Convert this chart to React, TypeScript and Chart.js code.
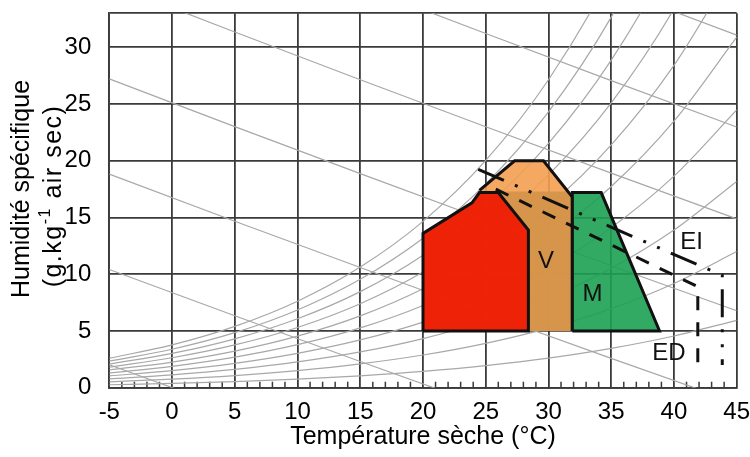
import React, { useEffect, useRef } from "react";
import { Chart, registerables } from "chart.js";

Chart.register(...registerables);

const FONT = 'Arial, "Liberation Sans", Helvetica, sans-serif';
const GRID = "#3a3a3a";
const PSY = "#a8a8a8";

// Axis titles
const xTitle = "Température sèche (°C)";
const yTitle1 = "Humidité spécifique";
const yTitle2 = ["(g.kg", "-1", " air sec)"];

// Relative humidity curves (10 % ... 100 %), g/kg at these temperatures
const temps = [-5, 0, 5, 10, 15, 20, 25, 30, 35, 40, 45];
const rh10 = [0.26, 0.38, 0.54, 0.75, 1.05, 1.44, 1.95, 2.61, 3.47, 4.56, 5.94];
const rh20 = [0.52, 0.75, 1.07, 1.51, 2.1, 2.88, 3.91, 5.25, 6.97, 9.19, 12.0];
const rh30 = [0.78, 1.13, 1.61, 2.27, 3.15, 4.33, 5.88, 7.9, 10.52, 13.89, 18.18];
const rh40 = [1.04, 1.5, 2.15, 3.03, 4.21, 5.78, 7.86, 10.58, 14.11, 18.65, 24.48];
const rh50 = [1.3, 1.88, 2.69, 3.79, 5.27, 7.25, 9.86, 13.28, 17.73, 23.49, 30.9];
const rh60 = [1.56, 2.26, 3.23, 4.55, 6.33, 8.72, 11.87, 16.01, 21.4, 28.41, 37.45];
const rh70 = [1.82, 2.64, 3.77, 5.31, 7.4, 10.19, 13.89, 18.76, 25.11, 33.39, 44.14];
const rh80 = [2.08, 3.02, 4.31, 6.08, 8.47, 11.68, 15.93, 21.53, 28.87, 38.46, 50.96];
const rh90 = [2.34, 3.39, 4.85, 6.85, 9.55, 13.17, 17.97, 24.32, 32.66, 43.6, 57.92];
const rh100 = [2.6, 3.77, 5.4, 7.62, 10.63, 14.66, 20.03, 27.14, 36.51, 48.83, 65.03];
const rhCurves = [rh10, rh20, rh30, rh40, rh50, rh60, rh70, rh80, rh90, rh100];

// Enthalpy lines (0, 5, 10 ... 30 kcal/kg)
const enthT = [-5, 5, 15, 25, 35, 45];
const h0 = [2.02, -2.0, -5.97, -9.87, -13.72, -17.51];
const h5 = [10.42, 6.34, 2.31, -1.65, -5.56, -9.42];
const h10 = [18.82, 14.67, 10.59, 6.56, 2.59, -1.32];
const h15 = [27.22, 23.01, 18.87, 14.78, 10.75, 6.78];
const h20 = [35.62, 31.35, 27.14, 23.0, 18.91, 14.88];
const h25 = [44.03, 39.69, 35.42, 31.22, 27.07, 22.98];
const h30 = [52.43, 48.03, 43.7, 39.43, 35.23, 31.08];
const enthLines = [h0, h5, h10, h15, h20, h25, h30];

// Zones
const redT = [20, 20, 23.9, 24.5, 26.0, 28.4, 28.4, 20];
const redW = [5, 13.6, 16.3, 17.2, 17.2, 13.9, 5, 5];
const vUpperT = [20, 20, 23.9, 24.5, 27.3, 29.6, 31.9, 31.9, 20];
const vUpperW = [5, 13.6, 16.3, 17.4, 20, 20, 16.8, 5, 5];
const vLowerT = [20, 20, 23.9, 24.5, 31.55, 31.9, 31.9, 20];
const vLowerW = [5, 13.6, 16.3, 17.3, 17.3, 16.8, 5, 5];
const vEdgeT = [24.5, 27.3, 29.6, 31.9, 31.9];
const vEdgeW = [17.4, 20, 20, 16.8, 5];
const mT = [31.9, 31.9, 34.2, 38.85, 31.9];
const mW = [5, 17.2, 17.2, 5, 5];

// Evaporative cooling limits
const eiT = [24.4, 43.85, 43.85];
const eiW = [19.25, 9.9, 2.0];
const edT = [25.8, 41.9, 41.9];
const edW = [17.5, 8.9, 1.5];

// Zone labels
const zoneNames = ["V", "M", "EI", "ED"];
const zoneNameT = [29.8, 33.5, 41.4, 39.6];
const zoneNameW = [11.1, 8.2, 12.8, 3.0];

const pts = (xs: number[], ys: number[]) => xs.map((x, i) => ({ x, y: ys[i] }));

const minorTicksPlugin = {
  id: "minorTicks",
  beforeDatasetsDraw(chart: any) {
    const { ctx, chartArea, scales } = chart;
    const xs = scales.x;
    ctx.save();
    ctx.strokeStyle = GRID;
    ctx.lineWidth = 1.5;
    for (let t = Math.ceil(xs.min); t <= xs.max; t++) {
      if (t % 5 === 0) continue;
      const px = xs.getPixelForValue(t);
      ctx.beginPath();
      ctx.moveTo(px, chartArea.bottom);
      ctx.lineTo(px, chartArea.bottom - 6);
      ctx.stroke();
    }
    ctx.restore();
  },
};

const labelsPlugin = {
  id: "zoneLabels",
  afterDatasetsDraw(chart: any) {
    const { ctx, scales } = chart;
    ctx.save();
    ctx.fillStyle = "#111";
    ctx.font = `24px ${FONT}`;
    ctx.textAlign = "center";
    ctx.textBaseline = "middle";
    zoneNames.forEach((n, i) => {
      ctx.fillText(n, scales.x.getPixelForValue(zoneNameT[i]), scales.y.getPixelForValue(zoneNameW[i]));
    });
    ctx.restore();
  },
};

const yTitlePlugin = {
  id: "yTitle",
  afterDraw(chart: any) {
    const { ctx } = chart;
    ctx.save();
    ctx.fillStyle = "#000";
    ctx.textBaseline = "middle";
    ctx.textAlign = "left";
    ctx.save();
    ctx.translate(22, 189);
    ctx.rotate(-Math.PI / 2);
    ctx.font = `25px ${FONT}`;
    const w1 = ctx.measureText(yTitle1).width;
    ctx.fillText(yTitle1, -w1 / 2, 0);
    ctx.restore();
    ctx.save();
    ctx.translate(54, 196);
    ctx.rotate(-Math.PI / 2);
    try {
      (ctx as any).letterSpacing = "1.5px";
    } catch (e) {}
    const big = `25px ${FONT}`;
    const small = `16px ${FONT}`;
    ctx.font = big;
    const a = ctx.measureText(yTitle2[0]).width;
    const c = ctx.measureText(yTitle2[2]).width;
    ctx.font = small;
    const b = ctx.measureText(yTitle2[1]).width;
    let x = -(a + b + c) / 2;
    ctx.font = big;
    ctx.fillText(yTitle2[0], x, 0);
    x += a;
    ctx.font = small;
    ctx.fillText(yTitle2[1], x, -8);
    x += b;
    ctx.font = big;
    ctx.fillText(yTitle2[2], x, 0);
    ctx.restore();
    ctx.restore();
  },
};

export default function App() {
  const ref = useRef<HTMLCanvasElement | null>(null);

  useEffect(() => {
    document.body.style.margin = "0";
    if (!ref.current) return;
    Chart.defaults.font.family = FONT;

    const datasets: any[] = [];
    rhCurves.forEach((c, i) =>
      datasets.push({
        label: `rh${(i + 1) * 10}`,
        data: pts(temps, c),
        borderColor: PSY,
        borderWidth: 1.2,
        cubicInterpolationMode: "monotone",
        fill: false,
        order: 100,
      })
    );
    enthLines.forEach((c, i) =>
      datasets.push({
        label: `h${i * 5}`,
        data: pts(enthT, c),
        borderColor: PSY,
        borderWidth: 1.2,
        tension: 0,
        fill: false,
        order: 100,
      })
    );
    datasets.push({
      label: "V upper",
      data: pts(vUpperT, vUpperW),
      borderWidth: 0,
      borderColor: "rgba(0,0,0,0)",
      backgroundColor: "rgba(244,158,81,0.9)",
      fill: "shape",
      tension: 0,
      order: 60,
    });
    datasets.push({
      label: "V lower",
      data: pts(vLowerT, vLowerW),
      borderWidth: 0,
      borderColor: "rgba(0,0,0,0)",
      backgroundColor: "rgba(211,148,74,0.92)",
      fill: "shape",
      tension: 0,
      order: 59,
    });
    datasets.push({
      label: "V outline",
      data: pts(vEdgeT, vEdgeW),
      borderWidth: 3,
      borderColor: "#111",
      borderJoinStyle: "miter",
      fill: false,
      tension: 0,
      order: 58,
    });
    datasets.push({
      label: "M",
      data: pts(mT, mW),
      borderWidth: 3,
      borderColor: "#111",
      borderJoinStyle: "miter",
      backgroundColor: "rgba(29,161,83,0.9)",
      fill: "shape",
      tension: 0,
      order: 57,
    });
    datasets.push({
      label: "Confort",
      data: pts(redT, redW),
      borderWidth: 3,
      borderColor: "#111",
      borderJoinStyle: "miter",
      backgroundColor: "rgba(241,22,0,0.9)",
      fill: "shape",
      tension: 0,
      order: 56,
    });
    datasets.push({
      label: "EI",
      data: pts(eiT, eiW),
      borderWidth: 3,
      borderColor: "#111",
      borderDash: [28, 12, 3, 12, 3, 12],
      fill: false,
      tension: 0,
      order: 10,
    });
    datasets.push({
      label: "ED",
      data: pts(edT, edW),
      borderWidth: 3,
      borderColor: "#111",
      borderDash: [14, 12],
      fill: false,
      tension: 0,
      order: 10,
    });

    const chart = new Chart(ref.current, {
      type: "scatter",
      data: { datasets },
      options: {
        animation: false,
        responsive: false,
        showLine: true,
        elements: { point: { radius: 0, hoverRadius: 0 } },
        layout: { padding: { top: 13.3, right: 13.3, left: 0, bottom: 0 } },
        plugins: { legend: { display: false }, tooltip: { enabled: false } },
        scales: {
          x: {
            type: "linear",
            min: -5,
            max: 45,
            ticks: { stepSize: 5, color: "#000", font: { size: 24 }, padding: 10, maxRotation: 0 },
            grid: { color: GRID, lineWidth: 1.8, drawTicks: false },
            border: { color: GRID, width: 1.8 },
            title: { display: true, text: xTitle, color: "#000", font: { size: 25 }, padding: { top: 0, bottom: 5 } },
            afterFit: (s: any) => {
              s.height = 457 - 387.7;
              s.paddingLeft = 0;
              s.paddingRight = 0;
            },
          },
          y: {
            type: "linear",
            min: 0,
            max: 33,
            ticks: {
              stepSize: 5,
              color: "#000",
              font: { size: 24 },
              padding: 18,
              callback: (v: any) => (Number(v) % 5 === 0 ? String(v) : ""),
            },
            grid: { color: GRID, lineWidth: 1.8, drawTicks: false },
            border: { color: GRID, width: 1.8 },
            afterFit: (s: any) => {
              s.width = 109.3;
              s.paddingTop = 0;
              s.paddingBottom = 0;
            },
          },
        },
      } as any,
      plugins: [minorTicksPlugin, labelsPlugin, yTitlePlugin],
    });
    return () => chart.destroy();
  }, []);

  return (
    <div style={{ width: 750, height: 457 }}>
      <canvas ref={ref} width={750} height={457} style={{ display: "block" }} />
    </div>
  );
}
